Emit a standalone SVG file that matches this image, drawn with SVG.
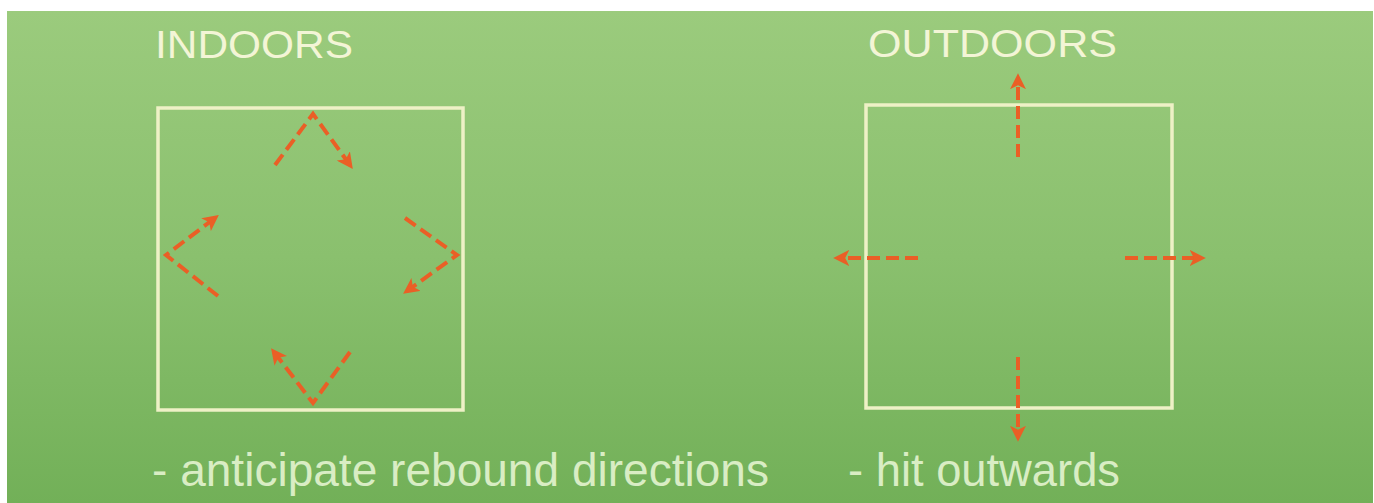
<svg xmlns="http://www.w3.org/2000/svg" width="1374" height="503" viewBox="0 0 1374 503">
  <style>
    .title { font-family: "Liberation Sans", Arial, sans-serif; font-size: 39px; fill: #f3f5d6; }
    .note { font-family: "Liberation Sans", Arial, sans-serif; font-size: 46px; fill: #d9edc4; }
    .court { fill: none; stroke: #eef1c6; stroke-width: 3.5; }
    .arrow { fill: none; stroke: #ea5f26; stroke-width: 4; stroke-dasharray: 13 6; marker-end: url(#head); }
  </style>
  <defs>
    <linearGradient id="bg" x1="0" y1="0" x2="0" y2="1">
      <stop offset="0" stop-color="#9bcb7d"/>
      <stop offset="0.5" stop-color="#8ac06e"/>
      <stop offset="1" stop-color="#72b058"/>
    </linearGradient>
    <marker id="head" viewBox="0 0 10 10" refX="7" refY="5" markerWidth="16" markerHeight="16" markerUnits="userSpaceOnUse" orient="auto">
      <path d="M0,0 L10,5 L0,10 L2.5,5 z" fill="#ea5f26"/>
    </marker>
  </defs>
  <rect x="0" y="0" width="1374" height="503" fill="#ffffff"/>
  <rect x="7" y="11" width="1366" height="492" fill="url(#bg)"/>

  <g id="indoors">
    <text class="title" x="155" y="58" textLength="198" lengthAdjust="spacingAndGlyphs">INDOORS</text>
    <rect class="court" x="158" y="108" width="305" height="302"/>
    <text class="note" x="152" y="486" textLength="617" lengthAdjust="spacingAndGlyphs">- anticipate rebound directions</text>
  </g>

  <g id="outdoors">
    <text class="title" x="868" y="57" textLength="249" lengthAdjust="spacingAndGlyphs">OUTDOORS</text>
    <rect class="court" x="866" y="105" width="306" height="303"/>
    <text class="note" x="848" y="486" textLength="272" lengthAdjust="spacingAndGlyphs">- hit outwards</text>
  </g>

  <g id="connectors">
    <path class="arrow" d="M275,165 L313,114 L350,165"/>
    <path class="arrow" d="M405,218 L457,255 L407,291"/>
    <path class="arrow" d="M350,352 L313,403 L274,352"/>
    <path class="arrow" d="M218,296 L166,255 L215,218"/>
    <path class="arrow" d="M1018,157 L1018,78"/>
    <path class="arrow" d="M918,258 L838,258"/>
    <path class="arrow" d="M1125,258 L1201,258"/>
    <path class="arrow" d="M1018,357 L1018,437"/>
  </g>
</svg>
